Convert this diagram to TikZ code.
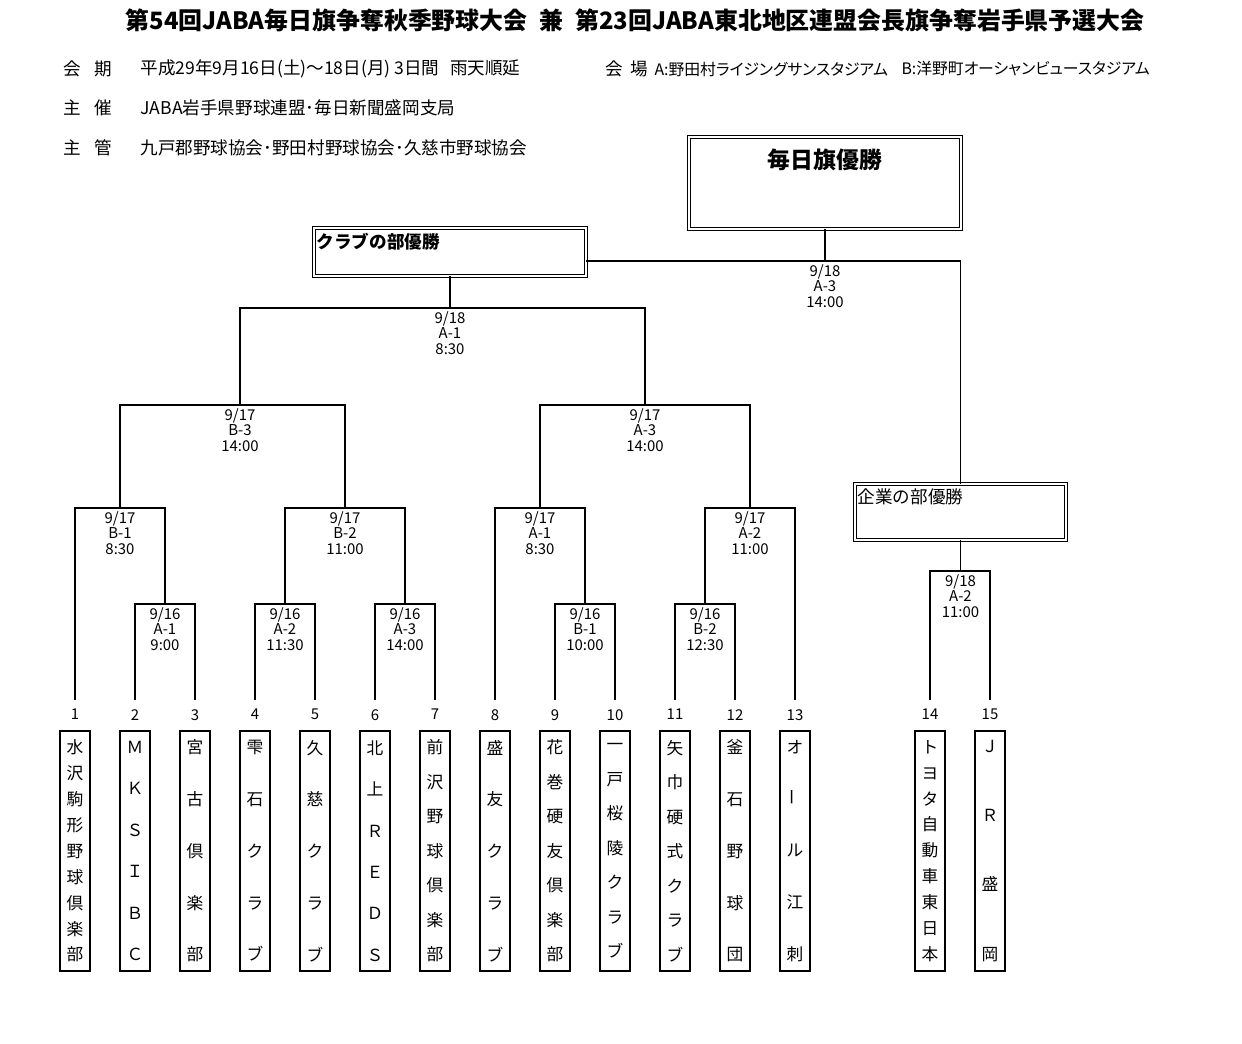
\documentclass[tikz,border=0pt]{standalone}
\usepackage{fontspec}
\setmainfont{Noto Sans CJK JP}
\newfontfamily\pfont[RawFeature=+palt]{Noto Sans CJK JP}
\usetikzlibrary{positioning}

\tikzset{
  spread/.code={\pgfmathsetlengthmacro\spreadskip{117.9pt/(#1-1)}%
    \tikzset{font=\fontsize{9.5pt}{\spreadskip}\selectfont}},
}

\begin{document}
\begin{tikzpicture}[x=0.02cm, y=-0.02cm, line width=0.6pt,
    team/.style={draw, minimum width=0.6cm, minimum height=4.8cm, inner sep=0pt, align=center},
    num/.style={font=\fontsize{8.5pt}{9pt}\selectfont, anchor=north, inner xsep=1pt, inner ysep=5pt},
    date/.style={font=\fontsize{8.5pt}{9pt}\selectfont, align=center, inner sep=1.5pt},
    info/.style={font=\fontsize{10pt}{12pt}\selectfont, anchor=west, inner sep=0pt},
    place/.style={info, font=\fontsize{9pt}{12pt}\pfont},
    winbox/.style={draw, double, double distance=1pt, line width=0.5pt, inner sep=0pt},
    boxtext/.style={font=\fontsize{10pt}{12pt}\selectfont, inner sep=1.5pt}]
	\useasboundingbox (0,0) rectangle (1242,1044);

	% header
	\node (title) [font=\fontsize{13.6pt}{16pt}\selectfont\bfseries] at (635,20)
		{第54回JABA毎日旗争奪秋季野球大会\hspace{0.5em}兼\hspace{0.5em}第23回JABA東北地区連盟会長旗争奪岩手県予選大会};
	\node (period) [info] at (63,69) {会\hspace{0.75em}期};
	\node (periodtext) [info] at (140,69) {平成29年9月16日(土)～18日(月) 3日間\hspace{0.6em}雨天順延};
	\node (venue) [info] at (605,69) {会\hspace{0.4em}場};
	\node (venuea) [place] at (654,69) {A:野田村ライジングサンスタジアム};
	\node (venueb) [place] at (901,69) {B:洋野町オーシャンビュースタジアム};
	\node (host) [info] at (63,108) {主\hspace{0.75em}催};
	\node (hosttext) [info] at (140,108) {JABA岩手県野球連盟･毎日新聞盛岡支局};
	\node (org) [info] at (63,148) {主\hspace{0.75em}管};
	\node (orgtext) [info] at (140,148) {九戸郡野球協会･野田村野球協会･久慈市野球協会};

	% winners
	\node (champ) [winbox, minimum width=5.44cm, minimum height=1.84cm,
		label={[boxtext, font=\fontsize{13pt}{15pt}\selectfont\bfseries, anchor=north, yshift=-5pt]north:毎日旗優勝}] at (825,183) {};
	\node (club) [winbox, minimum width=5.44cm, minimum height=0.96cm,
		label={[boxtext, font=\fontsize{10pt}{12pt}\selectfont\bfseries, anchor=north west, yshift=-1.5pt]north west:クラブの部優勝}] at (450,252) {};
	\node (corp) [winbox, minimum width=4.22cm, minimum height=1.12cm,
		label={[boxtext, anchor=north west, yshift=-1pt]north west:企業の部優勝}] at (960.5,512) {};

	% numbers
	\node (n1) [num] at (75,700) {1};
	\node (n2) [num] at (135,700) {2};
	\node (n3) [num] at (195,700) {3};
	\node (n4) [num] at (255,700) {4};
	\node (n5) [num] at (315,700) {5};
	\node (n6) [num] at (375,700) {6};
	\node (n7) [num] at (435,700) {7};
	\node (n8) [num] at (495,700) {8};
	\node (n9) [num] at (555,700) {9};
	\node (n10) [num] at (615,700) {10};
	\node (n11) [num] at (675,700) {11};
	\node (n12) [num] at (735,700) {12};
	\node (n13) [num] at (795,700) {13};
	\node (n14) [num] at (930,700) {14};
	\node (n15) [num] at (990,700) {15};

	% teams
	\node (t1) [team, spread=9] at (75,851) {水\\沢\\駒\\形\\野\\球\\倶\\楽\\部};
	\node (t2) [team, spread=6] at (135,851) {Ｍ\\Ｋ\\Ｓ\\Ｉ\\Ｂ\\Ｃ};
	\node (t3) [team, spread=5] at (195,851) {宮\\古\\倶\\楽\\部};
	\node (t4) [team, spread=5] at (255,851) {雫\\石\\ク\\ラ\\ブ};
	\node (t5) [team, spread=5] at (315,851) {久\\慈\\ク\\ラ\\ブ};
	\node (t6) [team, spread=6] at (375,851) {北\\上\\Ｒ\\Ｅ\\Ｄ\\Ｓ};
	\node (t7) [team, spread=7] at (435,851) {前\\沢\\野\\球\\倶\\楽\\部};
	\node (t8) [team, spread=5] at (495,851) {盛\\友\\ク\\ラ\\ブ};
	\node (t9) [team, spread=7] at (555,851) {花\\巻\\硬\\友\\倶\\楽\\部};
	\node (t10) [team, spread=7] at (615,851) {一\\戸\\桜\\陵\\ク\\ラ\\ブ};
	\node (t11) [team, spread=7] at (675,851) {矢\\巾\\硬\\式\\ク\\ラ\\ブ};
	\node (t12) [team, spread=5] at (735,851) {釜\\石\\野\\球\\団};
	\node (t13) [team, spread=5] at (795,851) {オ\\\rotatebox{90}{ー}\\ル\\江\\刺};
	\node (t14) [team, spread=9] at (930,851) {ト\\ヨ\\タ\\自\\動\\車\\東\\日\\本};
	\node (t15) [team, spread=4] at (990,851) {Ｊ\\Ｒ\\盛\\岡};

	% games
	\coordinate (m1) at (165,604);
	\coordinate (m2) at (285,604);
	\coordinate (m3) at (405,604);
	\coordinate (m4) at (585,604);
	\coordinate (m5) at (705,604);
	\coordinate (m6) at (120,508);
	\coordinate (m7) at (345,508);
	\coordinate (m8) at (540,508);
	\coordinate (m9) at (750,508);
	\coordinate (m10) at (240,405);
	\coordinate (m11) at (645,405);
	\coordinate (m12) at (450,308);
	\coordinate (m13) at (960.5,571);
	\coordinate (m14) at (825,261);

	\node (d1) [date, below=0pt of m1] {9/16\\A-1\\9:00};
	\node (d2) [date, below=0pt of m2] {9/16\\A-2\\11:30};
	\node (d3) [date, below=0pt of m3] {9/16\\A-3\\14:00};
	\node (d4) [date, below=0pt of m4] {9/16\\B-1\\10:00};
	\node (d5) [date, below=0pt of m5] {9/16\\B-2\\12:30};
	\node (d6) [date, below=0pt of m6] {9/17\\B-1\\8:30};
	\node (d7) [date, below=0pt of m7] {9/17\\B-2\\11:00};
	\node (d8) [date, below=0pt of m8] {9/17\\A-1\\8:30};
	\node (d9) [date, below=0pt of m9] {9/17\\A-2\\11:00};
	\node (d10) [date, below=0pt of m10] {9/17\\B-3\\14:00};
	\node (d11) [date, below=0pt of m11] {9/17\\A-3\\14:00};
	\node (d12) [date, below=0pt of m12] {9/18\\A-1\\8:30};
	\node (d13) [date, below=0pt of m13] {9/18\\A-2\\11:00};
	\node (d14) [date, below=0pt of m14] {9/18\\A-3\\14:00};

	\draw (n2) |- (m1) -| (n3);
	\draw (n4) |- (m2) -| (n5);
	\draw (n6) |- (m3) -| (n7);
	\draw (n9) |- (m4) -| (n10);
	\draw (n11) |- (m5) -| (n12);
	\draw (n1) |- (m6) -| (m1);
	\draw (m2) |- (m7) -| (m3);
	\draw (n8) |- (m8) -| (m4);
	\draw (m5) |- (m9) -| (n13);
	\draw (m6) |- (m10) -| (m7);
	\draw (m8) |- (m11) -| (m9);
	\draw (m10) |- (m12) -| (m11);
	\draw (club) -- (m12);
	\draw (n14) |- (m13) -| (n15);
	\draw (corp) -- (m13);
	\draw (club.east |- m14) -- (m14) -| (corp);
	\draw (champ) -- (m14);
\end{tikzpicture}
\end{document}
